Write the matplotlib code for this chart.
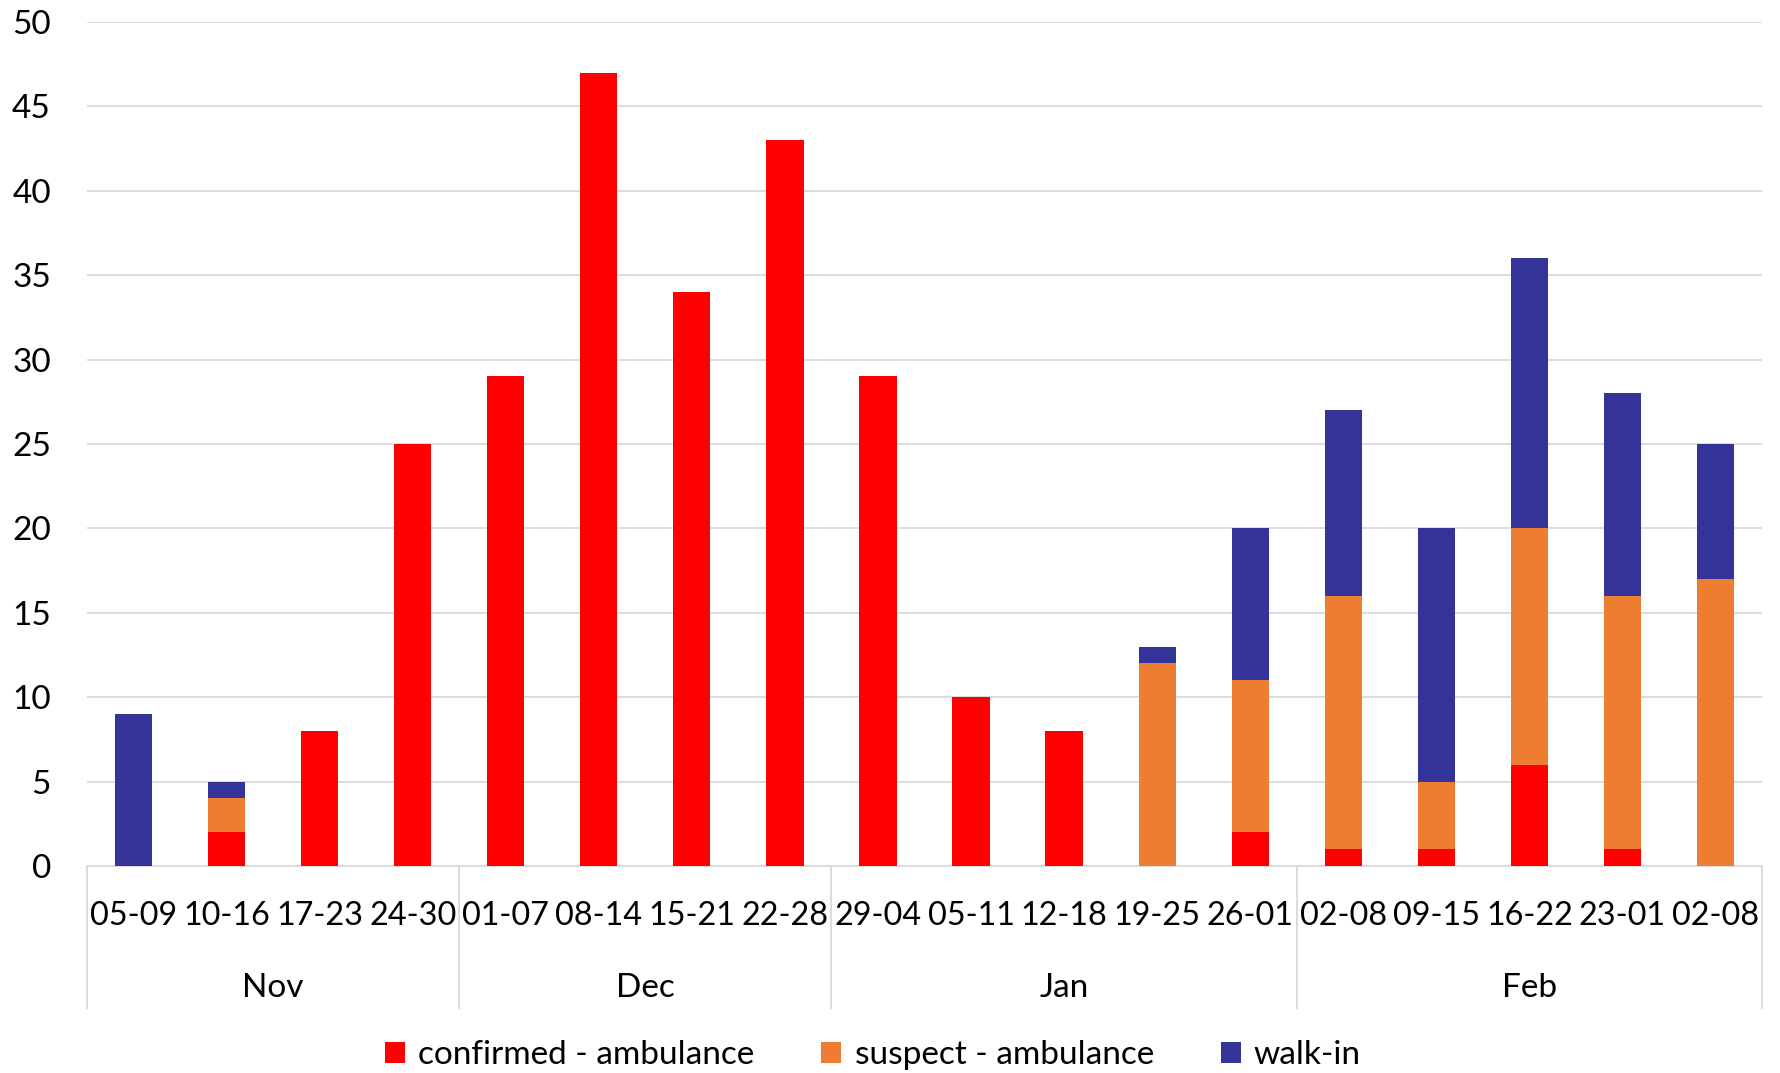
import matplotlib
matplotlib.use("Agg")
import matplotlib.pyplot as plt
from matplotlib.patches import Patch
import matplotlib.transforms as mtransforms
import numpy as np

plt.rcParams['font.family'] = ['Lato', 'DejaVu Sans']

weeks = ["05-09", "10-16", "17-23", "24-30",
         "01-07", "08-14", "15-21", "22-28",
         "29-04", "05-11", "12-18", "19-25", "26-01",
         "02-08", "09-15", "16-22", "23-01", "02-08"]
months = ["Nov", "Dec", "Jan", "Feb"]
month_sizes = [4, 4, 5, 5]

confirmed = [0, 2, 8, 25, 29, 47, 34, 43, 29, 10, 8, 0, 2, 1, 1, 6, 1, 0]
suspect = [0, 2, 0, 0, 0, 0, 0, 0, 0, 0, 0, 12, 9, 15, 4, 14, 15, 17]
walkin = [9, 1, 0, 0, 0, 0, 0, 0, 0, 0, 0, 1, 9, 11, 15, 16, 12, 8]

series_names = ["confirmed - ambulance", "suspect - ambulance", "walk-in"]
colors = ["#FF0000", "#ED7D31", "#333399"]

W, H = 1780, 1073
fig = plt.figure(figsize=(W / 100, H / 100), dpi=100)
ax = fig.add_axes([87 / W, 1 - 866 / H, (1762 - 87) / W, (866 - 22) / H])

x = np.arange(len(weeks))
c = np.array(confirmed)
s = np.array(suspect)
w = np.array(walkin)
bw = 0.4
ax.bar(x, c, bw, color=colors[0], zorder=3)
ax.bar(x, s, bw, bottom=c, color=colors[1], zorder=3)
ax.bar(x, w, bw, bottom=c + s, color=colors[2], zorder=3)

ax.set_xlim(-0.5, len(weeks) - 0.5)
ax.set_ylim(0, 50)
ax.set_yticks(np.arange(0, 51, 5))
ax.yaxis.grid(True, color="#D9D9D9", linewidth=1.3, zorder=0)
ax.set_axisbelow(True)
for sp in ["top", "right", "left"]:
    ax.spines[sp].set_visible(False)
ax.spines["bottom"].set_color("#D9D9D9")
ax.spines["bottom"].set_linewidth(1.3)
ax.tick_params(axis="y", length=0, labelsize=24, pad=26, labelcolor="#000000")
ax.tick_params(axis="x", length=0, labelbottom=False)

axh = 866 - 22
trans = mtransforms.blended_transform_factory(ax.transData, ax.transAxes)
for i, lab in enumerate(weeks):
    ax.text(i, -50 / axh, lab, transform=trans, ha="center", va="center",
            fontsize=23.3, color="#000000")

bounds = np.concatenate([[0], np.cumsum(month_sizes)]) - 0.5
for b in bounds:
    ax.plot([b, b], [0, -142 / axh], transform=trans, color="#D9D9D9",
            linewidth=1.3, clip_on=False)
for m, a, b in zip(months, bounds[:-1], bounds[1:]):
    ax.text((a + b) / 2, -122 / axh, m, transform=trans, ha="center",
            va="center", fontsize=24, color="#000000")

handles = [Patch(facecolor=col, edgecolor="none") for col in colors]
fig.legend(handles, series_names, loc="center", bbox_to_anchor=(873 / W, 18 / H),
           ncol=3, frameon=False, fontsize=24, handlelength=0.6, handleheight=0.6,
           handletextpad=0.4, columnspacing=2.0)

fig.savefig("out.png", dpi=100)
